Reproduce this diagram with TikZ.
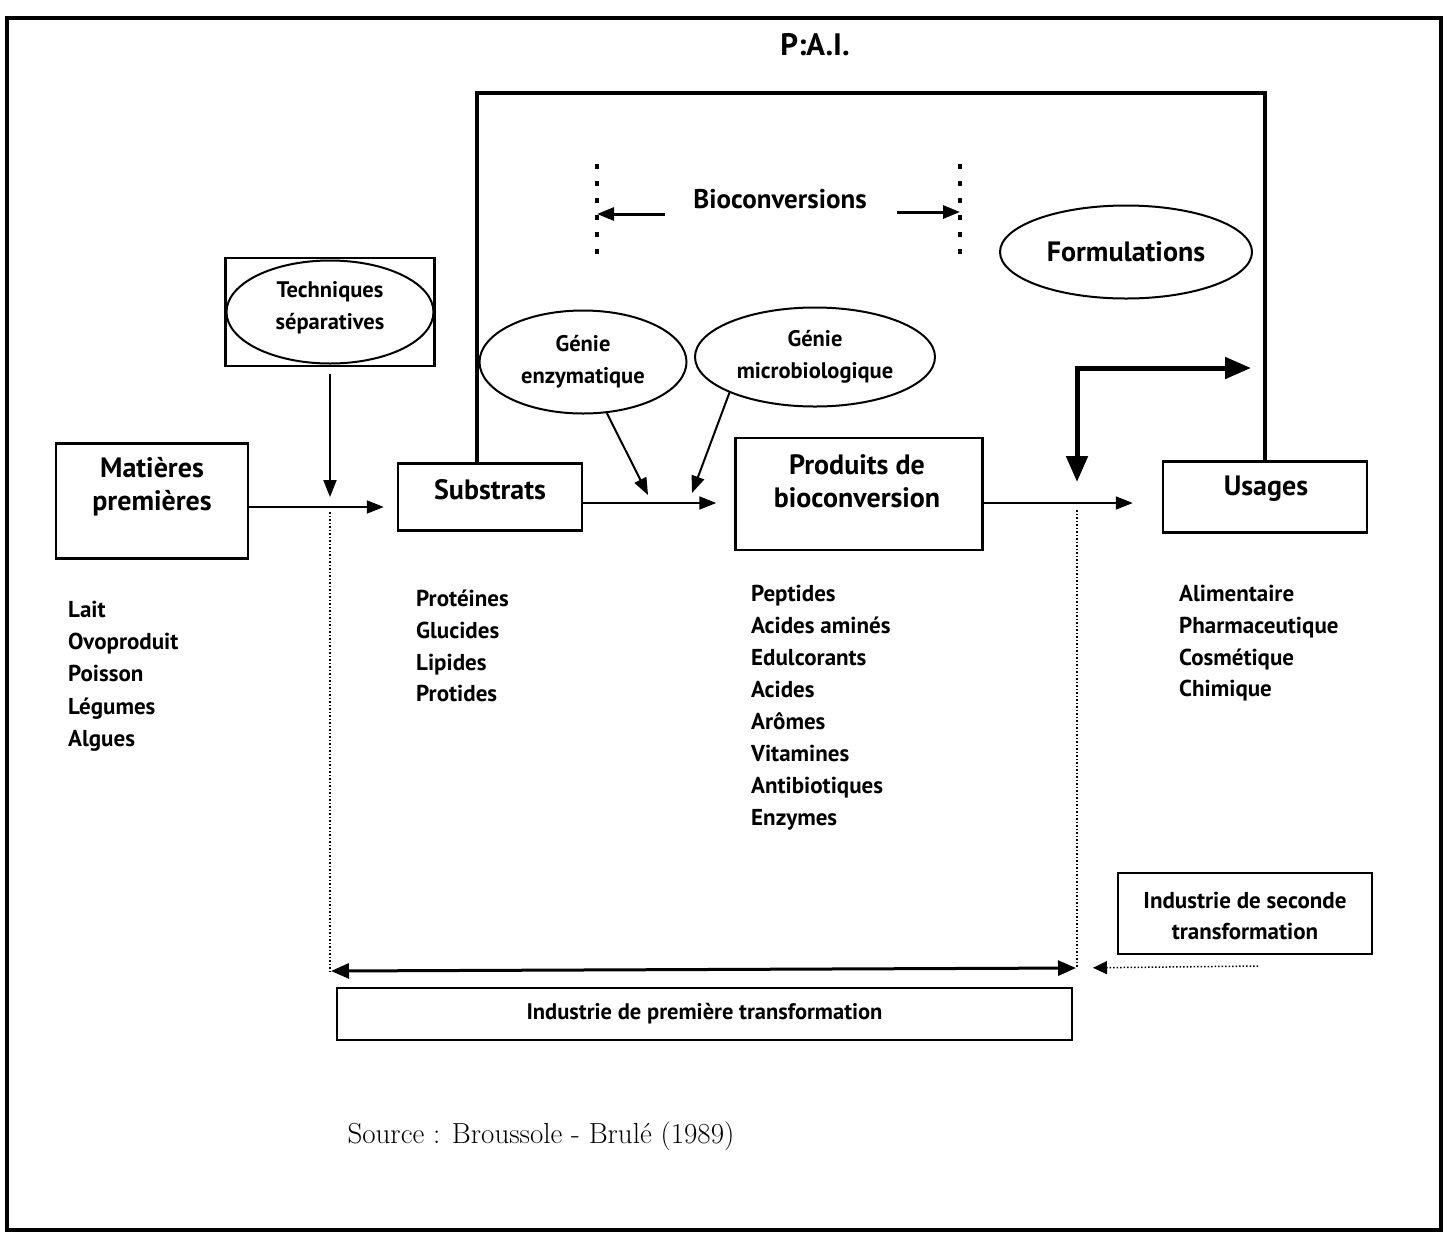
\documentclass[tikz,border=0pt]{standalone}
\usepackage{fontspec}
\newfontfamily\sansfont{PT Sans}
\usetikzlibrary{shapes.geometric,arrows.meta,positioning}

\begin{document}
\begin{tikzpicture}[x=1pt,y=-1pt,
    box/.style={draw,line width=2.5pt,inner sep=0pt},
    boxtext/.style={inner sep=0pt,align=center,font=\sansfont\bfseries\fontsize{28}{33}\selectfont},
    bubble/.style={draw,ellipse,line width=2pt,inner sep=0pt,align=center,font=\sansfont\bfseries\fontsize{22.5}{32}\selectfont},
    item/.style={anchor=base west,inner sep=0pt,font=\sansfont\bfseries\fontsize{23}{28}\selectfont},
    flow/.style={line width=2pt,-{Triangle[length=17pt,width=13pt]}},
    bigflow/.style={line width=5pt,{Triangle[length=26pt,width=21pt]}-{Triangle[length=26pt,width=21pt]}},
    span/.style={line width=3pt,{Triangle[length=18pt,width=15pt]}-{Triangle[length=18pt,width=15pt]}},
    dotflow/.style={line width=1.5pt,dotted,-{Triangle[length=14pt,width=13pt]}},
    guide/.style={line width=1.5pt,dotted},
    marker/.style={line width=4pt,dash pattern=on 5pt off 12pt}
]
    \useasboundingbox (0,0) rectangle (1447,1240);
    \draw[line width=4pt] (7,18) rectangle (1441,1230);
    \node[font=\sansfont\bfseries\fontsize{31}{36}\selectfont] (pai) at (815,45) {P:A.I.};

    % boites
    \node[box,minimum width=192pt,minimum height=115pt] (mat) at (152,501) {};
    \node[boxtext] (mattxt) at (152,487) {Matières\\premières};
    \node[box,minimum width=184pt,minimum height=67pt] (sub) at (490,497) {};
    \node[boxtext] (subtxt) at (490,490) {Substrats};
    \node[box,minimum width=247pt,minimum height=112pt] (prod) at (859,494) {};
    \node[boxtext] (prodtxt) at (857,481) {Produits de\\bioconversion};
    \node[box,minimum width=204pt,minimum height=71pt] (use) at (1265,497) {};
    \node[boxtext] (usetxt) at (1266,489) {Usages};

    % bulles
    \node[box,minimum width=209pt,minimum height=108pt] (tech) at (330,312) {};
    \node[bubble,minimum width=207pt,minimum height=103pt,text depth=14pt] (techbub) at (330,312) {Techniques\\séparatives};
    \node[bubble,minimum width=207pt,minimum height=103pt] (enz) at (583,362) {Génie\\enzymatique};
    \node[bubble,minimum width=240pt,minimum height=99pt] (micro) at (815,357) {Génie\\microbiologique};
    \node[bubble,minimum width=252pt,minimum height=93pt,font=\sansfont\bfseries\fontsize{28}{32}\selectfont] (form) at (1126,252) {Formulations};

    % bioconversions
    \node[font=\sansfont\bfseries\fontsize{27}{32}\selectfont] (bio) at (780,199) {Bioconversions};
    \coordinate (bioLa) at (597,164);
    \coordinate (bioLb) at (597,254);
    \coordinate (bioRa) at (960,164);
    \coordinate (bioRb) at (960,254);
    \draw[marker] (bioLa) -- (bioLb);
    \draw[marker] (bioRa) -- (bioRb);
    \draw[flow,line width=3pt,shorten <=25pt] ([yshift=-15pt]bio.west) -- ([yshift=-15pt]bio.west -| bioLa);
    \draw[flow,line width=3pt,shorten <=27pt] ([yshift=-13pt]bio.east) -- ([yshift=-13pt]bio.east -| bioRa);

    % cadre P.A.I.
    \coordinate (brack) at (477,93);
    \draw[line width=3.5pt] ([xshift=-13pt]sub.north) |- (brack) -| (use.north);

    % fleches
    \coordinate (sepj) at (330,507);
    \coordinate (secj) at (1077,505);
    \coordinate (enzin) at (648,495);
    \coordinate (microin) at (692,493);
    \draw[flow,shorten >=13pt] ([yshift=-6pt]mat.east) -- ([yshift=-6pt]mat.east -| sub.west);
    \draw[flow,shorten <=7pt,shorten >=10pt] (tech.south) -- (sepj);
    \draw[flow,shorten >=18pt] ([yshift=-6pt]sub.east) -- ([yshift=-6pt]sub.east -| prod.west);
    \draw[flow] (enz.-65) -- (enzin);
    \draw[flow] (micro.south west) -- (microin);
    \draw[flow,shorten >=29pt] ([yshift=-9pt]prod.east) -- ([yshift=-9pt]prod.east -| use.west);

    \coordinate (lbot) at (1077,482);
    \coordinate (lcorner) at (1077,368);
    \coordinate (lright) at (1251,368);
    \draw[bigflow] (lbot) -- (lcorner) -- (lright);

    % industries
    \coordinate (lefttip) at (331,971);
    \coordinate (righttip) at (1076,968);
    \coordinate (secfoot) at (1258,966);
    \draw[guide,shorten <=5pt] (sepj) -- (sepj |- lefttip);
    \draw[guide,shorten <=5pt] (secj) -- (secj |- righttip);
    \draw[span] (lefttip) -- (righttip);
    \node[box,minimum width=735pt,minimum height=52pt,font=\sansfont\bfseries\fontsize{22.5}{28}\selectfont] (ind1) at (704.5,1014) {Industrie de première transformation};
    \node[box,minimum width=254pt,minimum height=81pt] (ind2) at (1245,913.5) {};
    \node[boxtext,font=\sansfont\bfseries\fontsize{23}{31}\selectfont] (ind2txt) at (1245,916) {Industrie de seconde\\transformation};
    \draw[dotflow,shorten >=17pt] (secfoot) -- (righttip);

    % listes
    \foreach \t [count=\i] in {Lait,Ovoproduit,Poisson,Légumes,Algues}
        \node[item] (mp\i) at (68,585+32.3*\i) {\t};
    \foreach \t [count=\i] in {Protéines,Glucides,Lipides,Protides}
        \node[item] (su\i) at (416,575+31.7*\i) {\t};
    \foreach \t [count=\i] in {Peptides,Acides aminés,Edulcorants,Acides,Arômes,Vitamines,Antibiotiques,Enzymes}
        \node[item] (pb\i) at (751,569+32.1*\i) {\t};
    \foreach \t [count=\i] in {Alimentaire,Pharmaceutique,Cosmétique,Chimique}
        \node[item] (us\i) at (1179,570+31.7*\i) {\t};

    \node[anchor=west,font=\fontsize{29}{34}\selectfont] (src) at (344,1136) {Source : Broussole - Brulé (1989)};
\end{tikzpicture}
\end{document}
